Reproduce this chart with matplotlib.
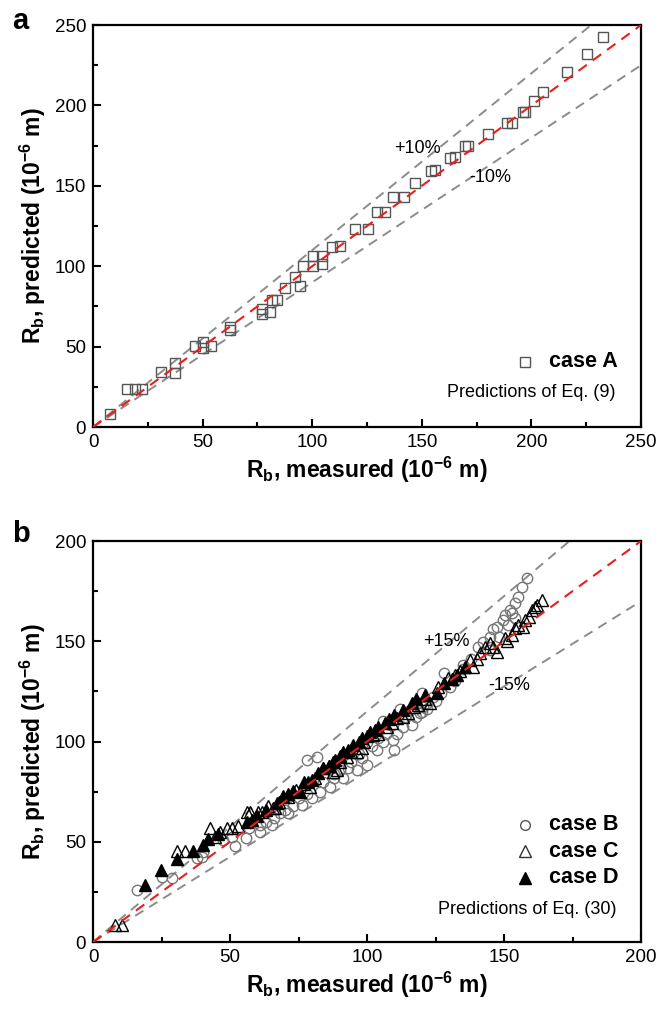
import matplotlib
matplotlib.use("Agg")
import matplotlib.pyplot as plt
import numpy as np

plt.rcParams['font.family'] = ['Liberation Sans', 'DejaVu Sans']
plt.rcParams['mathtext.fontset'] = 'custom'
plt.rcParams['mathtext.rm'] = 'Liberation Sans'
plt.rcParams['mathtext.bf'] = 'Liberation Sans:bold'

# ---- Panel a: case A ----
a_meas = [7.8, 15.5, 19.2, 22.4, 31, 37.4, 37.4, 46.5, 50.2, 50.2, 53.8, 62.5, 62.5,
          77.1, 77.1, 80.7, 81.7, 83.9, 87.6, 94.4, 92.2, 95.8, 100.4, 104.5, 100.4, 104.5,
          109, 112.7, 119.5, 125.5, 129.6, 133.2, 136.9, 141.9, 146.9, 154.2, 156,
          162.9, 165.1, 169.7, 171, 180.2, 188.9, 191.1, 196.2, 197.1, 201.2, 205.3,
          216.2, 225.4, 232.7]
a_pred = [8.1, 23.6, 23.6, 23.6, 34, 39.8, 33.6, 50.4, 52.9, 49.1, 50.4, 62.2, 60.3,
          73.4, 70.3, 71.5, 79, 79, 86.4, 87.7, 93.3, 100.1, 100.1, 101.4, 106.3, 106.3,
          111.9, 112.6, 123.1, 123.1, 133.7, 133.7, 143, 143, 151.7, 159.2, 159.8,
          167.3, 167.9, 174.7, 174.7, 182.2, 189.1, 189.1, 195.9, 195.9, 202.7, 208.3,
          220.8, 232, 242.5]

# ---- Panel b ----
b_meas = [16, 25.2, 38, 39.8, 47.4, 50.7, 61, 61, 65.3, 68.2, 71.2, 76.3, 80, 82.8, 86.5,
          91.2, 93, 96.4, 100, 103.6, 105.8, 109.5, 113.1, 116.4, 120, 120, 121.9, 78, 81.7,
          115.7, 120.4, 124.1, 130.3, 140.5, 142.3, 144.9, 147.4, 149.6, 150.4, 152.2, 154,
          155.1, 156.6, 158.4, 151.5, 154, 144.9, 119.3, 110, 135, 128, 97, 88,
          57, 63, 66, 70, 73, 75, 78, 84, 88, 90, 94, 98, 102, 104, 107, 111, 114, 118,
          122, 125, 127, 132, 135, 138, 146, 148, 153, 100, 106, 112, 56, 52, 40, 29]
b_pred = [25.9, 32.4, 41.9, 42.4, 50.9, 52.4, 54.9, 58.4, 58.4, 64.3, 64.3, 68.3, 71.8, 74.8, 77.3,
          81.8, 86.8, 85.8, 88.3, 95.8, 99.8, 100.7, 107.2, 108.2, 114.7, 124.2, 119.2, 90.8, 92.3,
          115.7, 117.2, 122.2, 127.2, 147.1, 149.6, 152.1, 157.1, 160.6, 163.1, 165.6, 169.1,
          172.1, 177.1, 181.5, 158.1, 161.6, 145.6, 114.2, 95.8, 138, 134, 94, 82,
          57, 60, 62, 66, 68, 72, 74, 80, 84, 86, 90, 92, 98, 102, 104, 104, 112, 112,
          116, 120, 124, 130, 136, 141, 156, 152, 164, 100, 110, 116, 52, 48, 45, 32]

c_meas = [8, 10.6, 30.7, 33.6, 42.7, 46.4, 49, 50.7, 44.5, 56.2, 60.2, 65.7, 79.2, 84, 89,
          57.3, 61.7, 66.4, 71.2, 87.6, 92.7, 96.4, 102.2, 107.3, 111, 115, 118.6,
          123, 129.6, 132, 137.6, 138.7, 141.2, 143, 145, 147.4, 150.4, 152.9, 154, 157,
          157.7, 160.2, 161.3, 163.9,
          68, 74, 77, 81, 86, 90, 94, 99, 104, 109, 113, 117, 121, 126, 134, 140, 146,
          151, 155, 159, 162, 53, 64, 98]
c_pred = [8.5, 8.5, 45.4, 45.4, 56.9, 54.9, 56.9, 56.9, 52.4, 64.8, 64.8, 66.8, 77.3, 86.8, 85.8,
          64.8, 64.8, 66.8, 72.3, 84.8, 92.3, 94.8, 103.2, 107.2, 111.7, 114.2, 118.2,
          119.2, 131.7, 133.2, 140.6, 137.2, 144.1, 147.1, 149.1, 144.6, 151.6, 153.1, 156.6, 157.1,
          160.6, 165.6, 167.1, 170.6,
          70, 76, 79, 82, 88, 90, 95, 100, 104, 109, 112, 117, 121, 127, 135, 141, 147,
          150, 158, 162, 168, 58, 68, 97]

d_meas = [19, 24.8, 30.7, 36.5, 40.1, 42, 45.6, 56.2, 58, 67.2, 73, 75.5, 78.5, 87.6,
          69.5, 80, 82.2, 88.3, 91.2, 95, 98.2, 101, 104, 106.6, 113, 116.4, 125.5, 133, 135.8,
          60, 63, 71, 77, 84, 86, 90, 93, 97, 100, 103, 108, 110, 118, 121, 128, 131]
d_pred = [28.4, 35.9, 41.4, 45.4, 48.4, 51.4, 53.9, 59.9, 60.8, 69.3, 75.3, 74.8, 79.8, 89.8,
          73, 80.8, 84.2, 90.8, 94.8, 98.3, 101.7, 104.7, 107.2, 109.2, 115.7, 119.2, 124.2, 133.2, 137.2,
          63, 66, 74, 80, 87, 88, 93, 96, 100, 103, 106, 111, 113, 121, 123, 129, 131]

fig = plt.figure(figsize=(6.62, 10.10), dpi=100)
axA = fig.add_axes([0.1405, 0.5772, 0.8278, 0.398])
axB = fig.add_axes([0.1405, 0.0673, 0.8278, 0.397])

LBL = 16.5

def style(ax, lim, major, minor):
    ax.set_xlim(0, lim)
    ax.set_ylim(0, lim)
    ax.set_xticks(np.arange(0, lim + 1, major))
    ax.set_yticks(np.arange(0, lim + 1, major))
    ax.set_xticks(np.arange(0, lim + 1, minor), minor=True)
    ax.set_yticks(np.arange(0, lim + 1, minor), minor=True)
    ax.tick_params(which='both', direction='in', top=False, right=False, labelsize=13.5, width=1.5)
    ax.tick_params(which='major', length=6, pad=5)
    ax.tick_params(which='minor', length=3.5)
    for s in ax.spines.values():
        s.set_linewidth(1.6)
    ax.set_xlabel(r'R$_\mathbf{b}$, measured (10$^{\mathbf{-6}}$ m)', fontsize=LBL,
                  fontweight='bold', labelpad=3)
    ax.set_ylabel(r'R$_\mathbf{b}$, predicted (10$^{\mathbf{-6}}$ m)', fontsize=LBL,
                  fontweight='bold', labelpad=5)

def reflines(ax, lim, frac):
    xx = np.array([0, lim])
    ax.plot(xx, xx, color='#e8201c', ls=(0, (5, 3.5)), lw=1.5, zorder=3)
    ax.plot(xx, xx * (1 + frac), color='#8c8c8c', ls=(0, (5, 3.5)), lw=1.4, zorder=1)
    ax.plot(xx, xx * (1 - frac), color='#8c8c8c', ls=(0, (5, 3.5)), lw=1.4, zorder=1)

def legend_item(ax, ymark, label, **mk):
    ax.plot([0.788], [ymark], transform=ax.transAxes, clip_on=False, ls='none', **mk)
    ax.text(0.832, ymark, label, transform=ax.transAxes, ha='left', va='center',
            fontsize=15.5, fontweight='bold')

# Panel a
style(axA, 250, 50, 25)
reflines(axA, 250, 0.10)
axA.plot(a_meas, a_pred, ls='none', marker='s', ms=7, mfc='none', mec='#555555', mew=1.0, zorder=2)
axA.text(148, 173, '+10%', fontsize=13, ha='center', va='center')
axA.text(181, 155, '-10%', fontsize=13, ha='center', va='center')
legend_item(axA, 0.162, 'case A', marker='s', ms=6.5, mfc='none', mec='#555555', mew=1.0)
axA.text(0.954, 0.085, 'Predictions of Eq. (9)', transform=axA.transAxes, ha='right',
         va='center', fontsize=13)
fig.text(0.018, 0.993, 'a', fontsize=21, fontweight='bold', ha='left', va='top')

# Panel b
style(axB, 200, 50, 25)
reflines(axB, 200, 0.15)
axB.plot(b_meas, b_pred, ls='none', marker='o', ms=7.5, mfc='none', mec='#777777', mew=1.0, zorder=2)
axB.plot(c_meas, c_pred, ls='none', marker='^', ms=9, mfc='none', mec='black', mew=1.0, zorder=2)
axB.plot(d_meas, d_pred, ls='none', marker='^', ms=9, mfc='black', mec='black', mew=1.0, zorder=2)
axB.text(129, 150, '+15%', fontsize=13, ha='center', va='center')
axB.text(152, 128, '-15%', fontsize=13, ha='center', va='center')
legend_item(axB, 0.292, 'case B', marker='o', ms=7, mfc='none', mec='#555555', mew=1.0)
legend_item(axB, 0.227, 'case C', marker='^', ms=8, mfc='none', mec='#333333', mew=1.0)
legend_item(axB, 0.160, 'case D', marker='^', ms=8, mfc='black', mec='black', mew=1.0)
axB.text(0.956, 0.082, 'Predictions of Eq. (30)', transform=axB.transAxes, ha='right',
         va='center', fontsize=13)
fig.text(0.018, 0.485, 'b', fontsize=21, fontweight='bold', ha='left', va='top')

fig.savefig('out.png', dpi=100)
